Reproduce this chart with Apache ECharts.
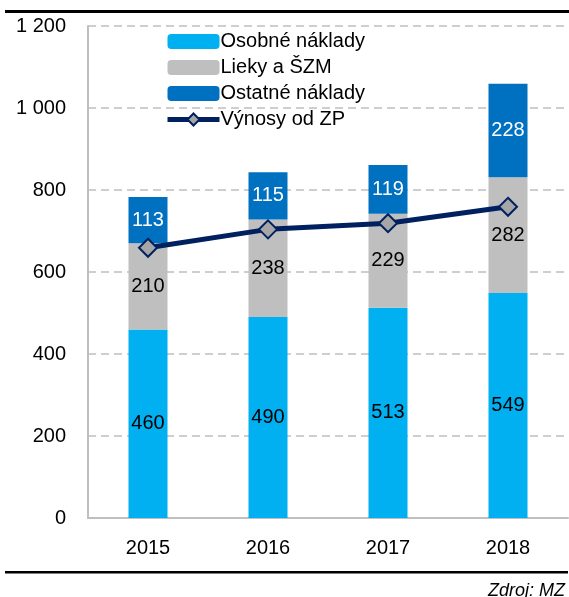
<!DOCTYPE html>
<html>
<head>
<meta charset="utf-8">
<script src="https://cdn.jsdelivr.net/npm/echarts@6/dist/echarts.min.js"></script>
<style>
    html, body {margin: 0; padding: 0; background: #fff;}
    #main {width: 569px; height: 597px;}
</style>
</head>
<body>
<div id="main"></div>
<script>
    // data
    const years = ['2015', '2016', '2017', '2018'];
    const osobne = [460, 490, 513, 549];
    const lieky = [210, 238, 229, 282];
    const ostatne = [113, 115, 119, 228];
    const vynosy = [659, 704, 719, 759];

    const FONT = '"Liberation Sans Narrow", "Arial Narrow", "Liberation Sans", Arial, sans-serif';

    const chart = echarts.init(document.getElementById('main'), null, {renderer: 'canvas'});

    function barLabel(color) {
        return {
            show: true,
            position: 'inside',
            color: color,
            fontFamily: FONT,
            fontSize: 20
        };
    }

    chart.setOption({
        animation: false,
        textStyle: {fontFamily: FONT},
        grid: {left: 88, right: 1, top: 26, bottom: 79},
        legend: {
            orient: 'vertical',
            left: 160,
            top: 26,
            itemWidth: 52,
            itemHeight: 15,
            itemGap: 5,
            textStyle: {fontFamily: FONT, fontSize: 20, color: '#000', lineHeight: 21, padding: [0, 0, 0, -4]},
            data: [
                'Osobné náklady', 'Lieky a ŠZM', 'Ostatné náklady',
                {name: 'Výnosy od ZP', lineStyle: {width: 5, color: '#002060'}}
            ]
        },
        xAxis: {
            type: 'category',
            data: years,
            axisLine: {lineStyle: {color: '#BFBFBF', width: 2}},
            axisTick: {show: false},
            axisLabel: {color: '#000', fontFamily: FONT, fontSize: 20, margin: 20}
        },
        yAxis: {
            type: 'value',
            min: 0,
            max: 1200,
            interval: 200,
            axisLine: {show: true, lineStyle: {color: '#BFBFBF', width: 2}},
            axisTick: {show: false},
            axisLabel: {
                color: '#000', fontFamily: FONT, fontSize: 20, margin: 22,
                formatter: (v) => String(v).replace(/\B(?=(\d{3})+(?!\d))/g, ' ')
            },
            splitLine: {lineStyle: {color: '#BFBFBF', type: [8, 5], width: 1.5}}
        },
        series: [
            {
                name: 'Osobné náklady', type: 'bar', stack: 'n', barWidth: 39,
                data: osobne, itemStyle: {color: '#00B0F0'}, label: barLabel('#000')
            },
            {
                name: 'Lieky a ŠZM', type: 'bar', stack: 'n', barWidth: 39,
                data: lieky, itemStyle: {color: '#BFBFBF'}, label: barLabel('#000')
            },
            {
                name: 'Ostatné náklady', type: 'bar', stack: 'n', barWidth: 39,
                data: ostatne, itemStyle: {color: '#0070C0'}, label: barLabel('#fff')
            },
            {
                name: 'Výnosy od ZP', type: 'line', data: vynosy, z: 5,
                symbol: 'diamond', symbolSize: 18,
                lineStyle: {color: '#002060', width: 5},
                itemStyle: {color: '#A6A6A6', borderColor: '#002060', borderWidth: 2}
            }
        ],
        graphic: [
            {type: 'rect', shape: {x: 5, y: 10, width: 564, height: 3}, style: {fill: '#000'}},
            {type: 'rect', shape: {x: 5, y: 571, width: 563, height: 2.5}, style: {fill: '#000'}},
            {
                type: 'text', right: 4, top: 582,
                style: {text: 'Zdroj: MZ', fill: '#000', font: 'italic 18px ' + FONT}
            }
        ]
    });
</script>
</body>
</html>
